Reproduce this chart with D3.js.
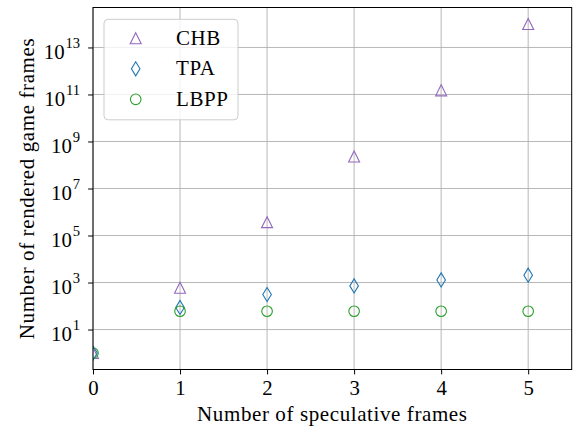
<!DOCTYPE html>
<html>
<head>
<meta charset="utf-8">
<script src="https://cdn.jsdelivr.net/npm/d3@7"></script>
<style>
  body { margin: 0; background: #fff; }
  svg, svg text { font-family: 'Liberation Serif', 'Times New Roman', Times, serif; }
</style>
</head>
<body>
<div id="chart"></div>
<script>
'use strict'

// data
const frames = [0, 1, 2, 3, 4, 5]
const chb = [1, 600, 3.7e5, 2.3e8, 1.5e11, 1e14]
const tpa = [1, 87, 310, 720, 1290, 2050]
const lbpp = [1, 60, 60, 60, 60, 60]
const seriesNames = ['CHB', 'TPA', 'LBPP']
const seriesColors = ['#9467bd', '#1f77b4', '#2ca02c']
const xTicks = [0, 1, 2, 3, 4, 5]
const yTickExps = [1, 3, 5, 7, 9, 11, 13]

const W = 576, H = 428
const FONT = "'Liberation Serif', 'Times New Roman', Times, serif"
const margin = { top: 7.5, right: 4.3, bottom: 58.5, left: 93 }
const pw = W - margin.left - margin.right,
  ph = H - margin.top - margin.bottom

const svg = d3.select('#chart').append('svg')
  .attr('width', W).attr('height', H)
  .attr('font-family', FONT)

const g = svg.append('g')
  .attr('transform', `translate(${margin.left}, ${margin.top})`)

// log domain with 5% margins like matplotlib autoscale
const allVals = chb.concat(tpa, lbpp)
const lo = Math.log10(d3.min(allVals)), hi = Math.log10(d3.max(allVals))
const pad = (hi - lo) * 0.05

const x = d3.scaleLinear().domain([0, 5.5]).range([0, pw])
const y = d3.scaleLog().domain([Math.pow(10, lo - pad), Math.pow(10, hi + pad)]).range([ph, 0])

// grid
const grid = g.append('g').attr('stroke', '#b0b0b0').attr('stroke-width', 0.9)
xTicks.forEach(t => {
  grid.append('line').attr('x1', x(t)).attr('x2', x(t)).attr('y1', 0).attr('y2', ph)
})
yTickExps.forEach(e => {
  grid.append('line').attr('x1', 0).attr('x2', pw).attr('y1', y(Math.pow(10, e))).attr('y2', y(Math.pow(10, e)))
})

// markers
svg.append('defs').append('clipPath').attr('id', 'plotclip')
  .append('rect').attr('width', pw).attr('height', ph)

const markerPath = {
  CHB: r => `M0,${-r}L${r},${r}L${-r},${r}Z`,
  TPA: r => `M0,${-r * 1.28}L${r * 0.78},0L0,${r * 1.28}L${-r * 0.78},0Z`
}
function drawMarker(sel, name, color) {
  if (name === 'LBPP') {
    sel.append('circle').attr('r', 5.3)
      .attr('fill', 'none').attr('stroke', color).attr('stroke-width', 1.1)
  } else {
    sel.append('path').attr('d', markerPath[name](5.5))
      .attr('fill', 'none').attr('stroke', color).attr('stroke-width', 1.1)
  }
}

const marks = g.append('g').attr('clip-path', 'url(#plotclip)')
const seriesData = [chb, tpa, lbpp]
seriesData.forEach((vals, si) => {
  vals.forEach((v, i) => {
    const m = marks.append('g').attr('transform', `translate(${x(frames[i])}, ${y(v)})`)
    drawMarker(m, seriesNames[si], seriesColors[si])
  })
})

// frame
g.append('rect').attr('width', pw).attr('height', ph)
  .attr('fill', 'none').attr('stroke', '#000').attr('stroke-width', 1)

// x axis
const xAxis = g.append('g').attr('transform', `translate(0, ${ph})`)
  .call(d3.axisBottom(x).tickValues(xTicks).tickSize(4.9).tickPadding(6).tickFormat(d3.format('d')))
xAxis.attr('font-family', FONT).attr('font-size', 20.8)
xAxis.select('.domain').remove()
xAxis.selectAll('text').attr('fill', '#000')

// y axis, labels as 10 with superscript exponent
const yAxis = g.append('g')
  .call(d3.axisLeft(y).tickValues(yTickExps.map(e => Math.pow(10, e))).tickSize(4.9).tickFormat(''))
yAxis.attr('font-family', FONT).attr('font-size', 20.8)
yAxis.select('.domain').remove()
yAxis.selectAll('.tick').each(function (d) {
  const t = d3.select(this).append('text')
    .attr('x', -13).attr('y', 10.6)
    .attr('text-anchor', 'end')
    .attr('fill', '#000')
  t.append('tspan').text('10')
  t.append('tspan').attr('dy', -11).attr('dx', 0.8).attr('font-size', 14.6).text(Math.round(Math.log10(d)))
})

// axis labels
svg.append('text')
  .attr('x', margin.left + pw / 2).attr('y', 420.5)
  .attr('text-anchor', 'middle').attr('font-size', 21).attr('letter-spacing', 0.6)
  .text('Number of speculative frames')

svg.append('text')
  .attr('transform', `translate(33.5, ${margin.top + ph / 2}) rotate(-90)`)
  .attr('text-anchor', 'middle').attr('font-size', 21).attr('letter-spacing', 0.6)
  .text('Number of rendered game frames')

// legend
const legend = svg.append('g').attr('transform', 'translate(104, 19.3)')
legend.append('rect').attr('width', 134).attr('height', 100.5).attr('rx', 4)
  .attr('fill', '#fff').attr('fill-opacity', 0.8).attr('stroke', '#cccccc').attr('stroke-width', 1)
seriesNames.forEach((name, i) => {
  const row = legend.append('g').attr('transform', `translate(0, ${19 + i * 30.5})`)
  drawMarker(row.append('g').attr('transform', 'translate(31.7, 0)'), name, seriesColors[i])
  row.append('text').attr('x', 72).attr('y', 6.5).attr('font-size', 21).attr('letter-spacing', 0.6).text(name)
})
</script>
</body>
</html>
